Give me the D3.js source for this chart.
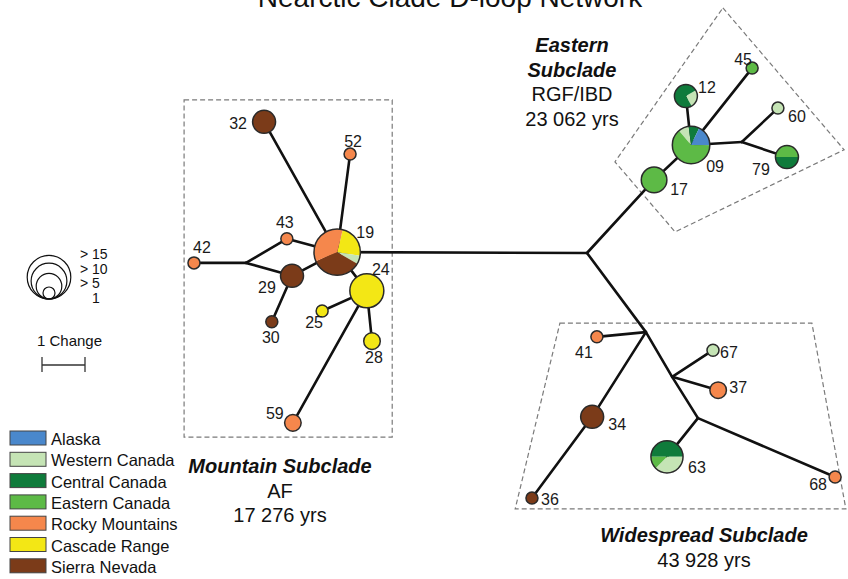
<!DOCTYPE html>
<html>
<head>
<meta charset="utf-8">
<script src="https://cdn.jsdelivr.net/npm/d3@7"></script>
<style>
  html, body { margin: 0; padding: 0; background: #fff; }
  svg { display: block; font-family: "Liberation Sans", Arial, Helvetica, sans-serif; }
</style>
</head>
<body>
<svg id="chart" width="848" height="579"></svg>
<script>
// ---------- data ----------
const regions = ["Alaska", "Western Canada", "Central Canada", "Eastern Canada",
                 "Rocky Mountains", "Cascade Range", "Sierra Nevada"];
const regionColors = ["#4a88cc", "#c5e4b5", "#0f7b3b", "#5dba46",
                      "#f5874c", "#f3e715", "#7b3b19"];

// Haplotypes: id, network position (in mutational steps), samples per region (clockwise order)
const haplotypeIds = ["19", "24", "25", "28", "59", "29", "30", "43", "42", "32", "52",
                      "17", "09", "12", "45", "60", "79",
                      "41", "34", "36", "67", "37", "63", "68"];
const haplotypeX = [-5.81, -5.12, -6.16, -5.00, -6.84, -6.86, -7.33, -6.98, -9.14, -7.51, -5.51,
                     1.56, 2.42, 2.30, 3.84, 4.44, 4.65,
                     0.23, 0.12, -1.28, 2.93, 3.05, 1.86, 5.77];
const haplotypeY = [-0.02, 0.88, 1.35, 2.05, 3.95, 0.53, 1.60, -0.33, 0.23, -3.05, -2.30,
                    -1.70, -2.51, -3.65, -4.30, -3.37, -2.23,
                     1.95, 3.81, 5.70, 2.26, 3.19, 4.74, 5.21];
const haplotypeSamples = [
  [["Cascade Range", 4], ["Western Canada", 1], ["Sierra Nevada", 6], ["Rocky Mountains", 6]], // 19
  [["Cascade Range", 9]],                                                                     // 24
  [["Cascade Range", 1]],                                                                     // 25
  [["Cascade Range", 2]],                                                                     // 28
  [["Rocky Mountains", 2]],                                                                   // 59
  [["Sierra Nevada", 4]],                                                                     // 29
  [["Sierra Nevada", 1]],                                                                     // 30
  [["Rocky Mountains", 1]],                                                                   // 43
  [["Rocky Mountains", 1]],                                                                   // 42
  [["Sierra Nevada", 4]],                                                                     // 32
  [["Rocky Mountains", 1]],                                                                   // 52
  [["Eastern Canada", 5]],                                                                    // 17
  [["Western Canada", 1], ["Central Canada", 1], ["Alaska", 2], ["Eastern Canada", 7]],       // 09
  [["Western Canada", 1], ["Central Canada", 3]],                                             // 12
  [["Eastern Canada", 1]],                                                                    // 45
  [["Western Canada", 1]],                                                                    // 60
  [["Eastern Canada", 2], ["Central Canada", 2]],                                             // 79
  [["Rocky Mountains", 1]],                                                                   // 41
  [["Sierra Nevada", 4]],                                                                     // 34
  [["Sierra Nevada", 1]],                                                                     // 36
  [["Western Canada", 1]],                                                                    // 67
  [["Rocky Mountains", 2]],                                                                   // 37
  [["Central Canada", 4], ["Western Canada", 3], ["Eastern Canada", 1]],                      // 63
  [["Rocky Mountains", 1]]                                                                    // 68
];

// Median vectors (unsampled branching points)
const medianIds = ["mv1", "mv2", "mv3", "mvA", "mvB", "mvC"];
const medianX = [-7.93, 0.00, 3.60, 1.37, 1.98, 2.58];
const medianY = [ 0.23, 0.00, -2.58, 1.84, 2.88, 3.84];

// Network links
const links = [
  ["mv1", "42"], ["mv1", "43"], ["mv1", "29"], ["43", "19"], ["29", "19"], ["29", "30"],
  ["32", "19"], ["52", "19"], ["19", "24"], ["24", "25"], ["24", "28"], ["24", "59"],
  ["19", "mv2"], ["mv2", "17"], ["17", "09"], ["09", "12"], ["09", "45"], ["09", "mv3"],
  ["mv3", "60"], ["mv3", "79"], ["mv2", "mvA"], ["mvA", "41"], ["mvA", "34"], ["34", "36"],
  ["mvA", "mvB"], ["mvB", "67"], ["mvB", "37"], ["mvB", "mvC"], ["mvC", "63"], ["mvC", "68"]
];

// Subclade outlines (in mutational steps)
const subcladeOutlines = [
  [[-9.37, -3.56], [-4.53, -3.56], [-4.53, 4.28], [-9.37, 4.28]],
  [[3.16, -5.70], [5.98, -2.40], [2.05, -0.49], [0.65, -2.12]],
  [[-0.63, 1.63], [5.23, 1.63], [6.02, 5.95], [-1.67, 5.95]]
];

const sizeLegendCounts = [15, 10, 5, 1];
const sizeLegendLabels = ["> 15", "> 10", "> 5", "1"];

// ---------- scales ----------
const svg = d3.select("#chart");
const x = d3.scaleLinear().domain([-10, 6]).range([157, 845]);
const y = d3.scaleLinear().domain([-6, 6]).range([-5, 511]);
const radius = d3.scaleSqrt().domain([1, 15]).range([6, 21.8]);
const color = d3.scaleOrdinal().domain(regions).range(regionColors);

const pos = {};
haplotypeIds.forEach((id, i) => { pos[id] = [x(haplotypeX[i]), y(haplotypeY[i])]; });
medianIds.forEach((id, i) => { pos[id] = [x(medianX[i]), y(medianY[i])]; });

// ---------- title ----------
svg.append("text")
  .attr("x", 450).attr("y", 7)
  .attr("text-anchor", "middle")
  .attr("font-size", 28)
  .attr("fill", "#111")
  .text("Nearctic Clade D-loop Network");

// ---------- subclade outlines ----------
svg.append("g").selectAll("path")
  .data(subcladeOutlines)
  .join("path")
  .attr("d", pts => d3.line().x(p => x(p[0])).y(p => y(p[1]))(pts) + "Z")
  .attr("fill", "none")
  .attr("stroke", "#7a7a7a")
  .attr("stroke-width", 1.2)
  .attr("stroke-dasharray", "5,3");

// ---------- links ----------
svg.append("g").selectAll("line")
  .data(links)
  .join("line")
  .attr("x1", d => pos[d[0]][0]).attr("y1", d => pos[d[0]][1])
  .attr("x2", d => pos[d[1]][0]).attr("y2", d => pos[d[1]][1])
  .attr("stroke", "#111")
  .attr("stroke-width", 2.6)
  .attr("stroke-linecap", "round");

// ---------- haplotype pies ----------
const pieStart = { "19": 14, "09": -40, "12": 60, "79": -90, "63": -90 };
const nodeG = svg.append("g").selectAll("g")
  .data(haplotypeIds.map((id, i) => ({ id, samples: haplotypeSamples[i] })))
  .join("g")
  .attr("transform", d => `translate(${pos[d.id][0]},${pos[d.id][1]})`);

nodeG.each(function (d) {
  const g = d3.select(this);
  const total = d3.sum(d.samples, s => s[1]);
  const rr = radius(total);
  const a0 = (pieStart[d.id] || 0) * Math.PI / 180;
  const pie = d3.pie().sort(null).value(s => s[1]).startAngle(a0).endAngle(a0 + 2 * Math.PI);
  const arc = d3.arc().innerRadius(0).outerRadius(rr);
  g.selectAll("path").data(pie(d.samples)).join("path")
    .attr("d", arc)
    .attr("fill", s => color(s.data[0]));
  g.append("circle").attr("r", rr)
    .attr("fill", "none").attr("stroke", "#2a2a2a").attr("stroke-width", 1.5);
});

// ---------- haplotype labels ----------
const labelOffset = {
  "19": [28, -14], "24": [14, -16], "25": [-8, 17], "28": [2, 22], "59": [-18, -4],
  "29": [-25, 17], "30": [-1, 21], "43": [-2, -11], "42": [8, -10], "32": [-26, 7],
  "52": [3, -7], "17": [25, 15], "09": [24, 27], "12": [21, -3], "45": [-9, -3],
  "60": [19, 14], "79": [-26, 18], "41": [-13, 21], "34": [25, 13], "36": [18, 7],
  "67": [16, 8], "37": [20, 3], "63": [30, 16], "68": [-17, 13]
};
svg.append("g").selectAll("text")
  .data(haplotypeIds)
  .join("text")
  .attr("x", id => pos[id][0] + labelOffset[id][0])
  .attr("y", id => pos[id][1] + labelOffset[id][1])
  .attr("text-anchor", "middle")
  .attr("font-size", 16)
  .attr("fill", "#1a1a1a")
  .text(id => id);

// ---------- subclade captions ----------
function caption(cx, y0, lines) {
  const t = svg.append("text").attr("text-anchor", "middle").attr("font-size", 20).attr("fill", "#111");
  lines.forEach((ln, i) => {
    t.append("tspan").attr("x", cx).attr("y", y0 + i * 24.5)
      .attr("font-weight", ln.bold ? "bold" : "normal")
      .attr("font-style", ln.bold ? "italic" : "normal")
      .text(ln.text);
  });
}
caption(572, 52, [{ text: "Eastern", bold: true }, { text: "Subclade", bold: true },
                  { text: "RGF/IBD" }, { text: "23 062 yrs" }]);
caption(280, 473, [{ text: "Mountain Subclade", bold: true }, { text: "AF" }, { text: "17 276 yrs" }]);
caption(704, 542, [{ text: "Widespread Subclade", bold: true }, { text: "43 928 yrs" }]);

// ---------- size legend ----------
const sizeLeg = svg.append("g").attr("transform", "translate(49,299)");
sizeLeg.selectAll("circle")
  .data(sizeLegendCounts)
  .join("circle")
  .attr("cy", c => -radius(c))
  .attr("r", c => radius(c))
  .attr("fill", "none").attr("stroke", "#111").attr("stroke-width", 1.2);
svg.append("g").selectAll("text")
  .data(sizeLegendLabels)
  .join("text")
  .attr("x", (t, i) => i === 3 ? 92 : 80)
  .attr("y", (t, i) => 259 + i * 14.5)
  .attr("font-size", 14)
  .attr("fill", "#111")
  .text(t => t);

// ---------- scale bar ----------
const bar = svg.append("g").attr("stroke", "#333").attr("stroke-width", 1.3);
const barX0 = 42, barX1 = 42 + (x(1) - x(0));
bar.append("line").attr("x1", barX0).attr("x2", barX1).attr("y1", 365).attr("y2", 365);
bar.append("line").attr("x1", barX0).attr("x2", barX0).attr("y1", 357).attr("y2", 372);
bar.append("line").attr("x1", barX1).attr("x2", barX1).attr("y1", 357).attr("y2", 372);
svg.append("text").attr("x", 37).attr("y", 346).attr("font-size", 15).attr("fill", "#111")
  .text("1 Change");

// ---------- region legend ----------
const leg = svg.append("g").attr("transform", "translate(10,431)");
const rows = leg.selectAll("g").data(regions).join("g")
  .attr("transform", (d, i) => `translate(0,${i * 21.3})`);
rows.append("rect").attr("width", 36).attr("height", 14)
  .attr("fill", d => color(d)).attr("stroke", "#444").attr("stroke-width", 1);
rows.append("text").attr("x", 41).attr("y", 14).attr("font-size", 16.5).attr("fill", "#111")
  .text(d => d);
</script>
</body>
</html>
